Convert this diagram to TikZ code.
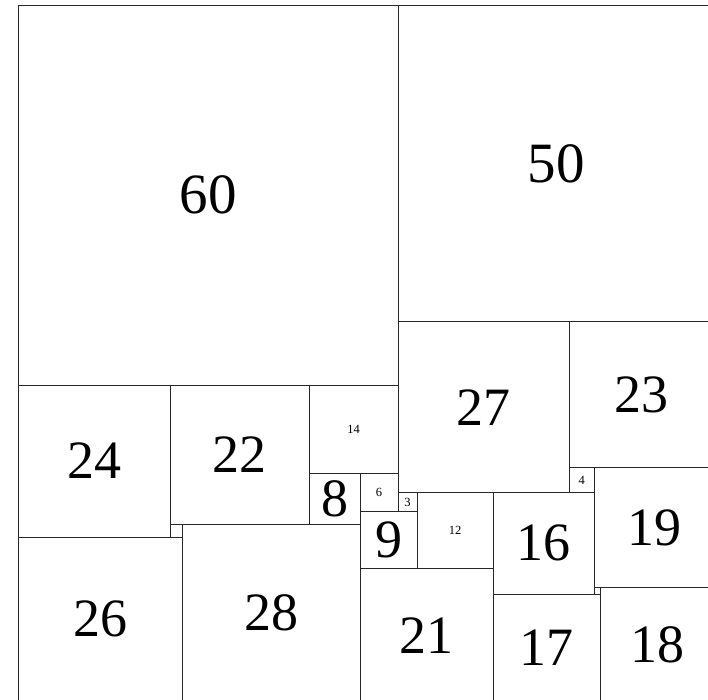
\documentclass[tikz,border=0pt]{standalone}
\usepackage{fontspec}
\setmainfont{Liberation Serif}
\newcommand\bigfont{\fontsize{54}{54}\selectfont}
\newcommand\hugefont{\fontsize{57}{57}\selectfont}
\newcommand\smallfont{\fontsize{12.5}{12.5}\selectfont}
\tikzset{
  sqbox/.style={draw=black!85, line width=0.9pt, inner sep=0pt, outer sep=0pt, anchor=north west}
}
\newcommand\sq[5]{%
  \node[sqbox, minimum width=#3*6.3333pt, minimum height=#3*6.3333pt, font=#5] (s#4) at (18+6.3333*#1, 5+6.3333*#2) {#4};}
\newcommand\sqe[4]{%
  \node[sqbox, minimum width=#3*6.3333pt, minimum height=#3*6.3333pt] (#4) at (18+6.3333*#1, 5+6.3333*#2) {};}
\begin{document}
\begin{tikzpicture}[x=1pt,y=-1pt]
\useasboundingbox (0,0) rectangle (708,699);
\clip (0,0) rectangle (708,699);
\sq{0}{0}{60}{60}{\hugefont}
\sq{60}{0}{50}{50}{\hugefont}
\sq{60}{50}{27}{27}{\bigfont}
\sq{87}{50}{23}{23}{\bigfont}
\sq{87}{73}{4}{4}{\smallfont}
\sq{91}{73}{19}{19}{\bigfont}
\sq{0}{60}{24}{24}{\bigfont}
\sq{24}{60}{22}{22}{\bigfont}
\sq{46}{60}{14}{14}{\smallfont}
\sq{46}{74}{8}{8}{\bigfont}
\sq{54}{74}{6}{6}{\smallfont}
\sq{60}{77}{3}{3}{\smallfont}
\sq{54}{80}{9}{9}{\bigfont}
\sq{63}{77}{12}{12}{\smallfont}
\sq{75}{77}{16}{16}{\bigfont}
\sqe{24}{82}{2}{stwo}
\sq{0}{84}{26}{26}{\bigfont}
\sq{26}{82}{28}{28}{\bigfont}
\sq{54}{89}{21}{21}{\bigfont}
\sq{75}{93}{17}{17}{\bigfont}
\sqe{91}{92}{1}{sone}
\sq{92}{92}{18}{18}{\bigfont}
\end{tikzpicture}
\end{document}
